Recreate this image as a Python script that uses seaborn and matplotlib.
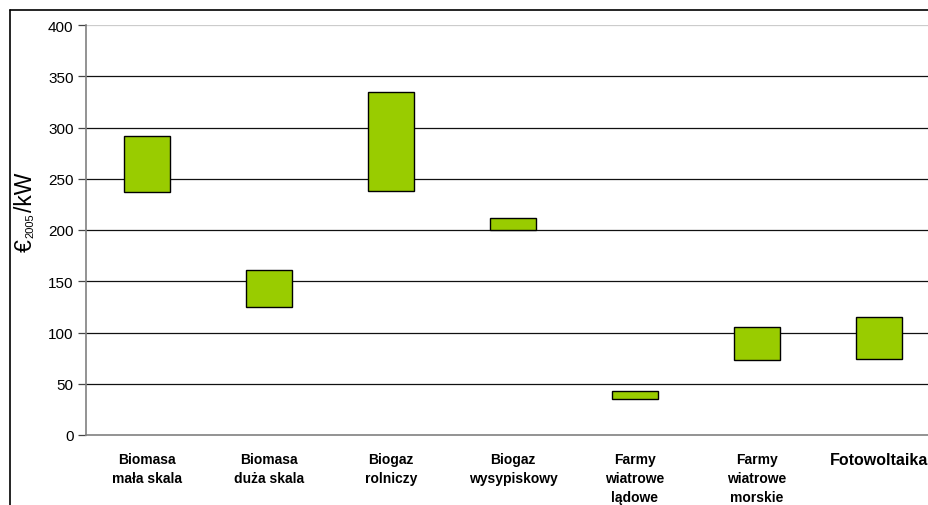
import matplotlib.pyplot as plt
import pandas as pd
import seaborn as sns
from matplotlib.lines import Line2D

# Range of costs per technology (low / high end).
categories = ["Biomasa\nmała skala", "Biomasa\nduża skala", "Biogaz\nrolniczy",
              "Biogaz\nwysypiskowy", "Farmy\nwiatrowe\nlądowe", "Farmy\nwiatrowe\nmorskie",
              "Fotowoltaika"]
low = [237, 125, 238, 200, 35, 73, 74]
high = [292, 161, 335, 212, 43, 105, 115]
yticks = [0, 50, 100, 150, 200, 250, 300, 350, 400]

df = pd.DataFrame({"tech": categories, "low": low, "high": high})
df["span"] = df["high"] - df["low"]

sns.set_style("white")
plt.rcParams["font.family"] = ["Liberation Sans", "DejaVu Sans"]

W, H = 929, 506
fig = plt.figure(figsize=(W / 100, H / 100), dpi=100)
ax = fig.add_axes([86 / W, 70 / H, 854 / W, 410 / H])

ax.set_axisbelow(True)
ax.yaxis.grid(True, color="#111111", linewidth=0.9)
ax.set_ylim(0, 400)
ax.set_yticks(yticks)

sns.barplot(data=df, x="tech", y="span", bottom=df["low"].values, color="#99CC00",
            edgecolor="black", linewidth=1.0, width=0.385, saturation=1, ax=ax)

ax.set_xlim(-0.5, len(categories) - 0.5)
ax.yaxis.get_gridlines()[-1].set_color("#cccccc")
ax.yaxis.get_gridlines()[0].set_visible(False)

# category ticks sit between the bars
ax.set_xticks([i - 0.5 for i in range(len(categories) + 1)], minor=True)
ax.tick_params(axis="x", which="minor", direction="inout", length=8, width=0.9, color="#444444")
ax.tick_params(axis="x", which="major", length=0, pad=12, labelcolor="black")
ax.tick_params(axis="y", direction="out", length=6, width=0.9, color="#444444", labelsize=11, pad=3,
               left=True, labelcolor="black")
for lab in ax.get_xticklabels():
    lab.set_fontweight("bold")
    lab.set_fontsize(10)
    lab.set_linespacing(1.45)
ax.get_xticklabels()[-1].set_fontsize(11.5)

for s in ["top", "right"]:
    ax.spines[s].set_visible(False)
for s in ["left", "bottom"]:
    ax.spines[s].set_color("#808080")
    ax.spines[s].set_linewidth(1.2)

ax.set_xlabel("")
ax.set_ylabel("")

# y label "€2005/kW" with a small subscript, built from pieces
lab_kw = dict(rotation=90, rotation_mode="anchor", ha="left", va="baseline", color="black")
fig.text(32 / W, 1 - 252 / H, "€", fontsize=16.5, **lab_kw)
fig.text(33.5 / W, 1 - 238 / H, "2005", fontsize=8, **lab_kw)
fig.text(32 / W, 1 - 212 / H, "/kW", fontsize=16.5, **lab_kw)

# frame of the original chart area
fig.add_artist(Line2D([10 / W, 10 / W], [0, 1 - 11 / H], color="black", linewidth=1.2))
fig.add_artist(Line2D([10 / W, 1], [1 - 11 / H, 1 - 11 / H], color="black", linewidth=1.2))

plt.savefig("out.png", dpi=100)
